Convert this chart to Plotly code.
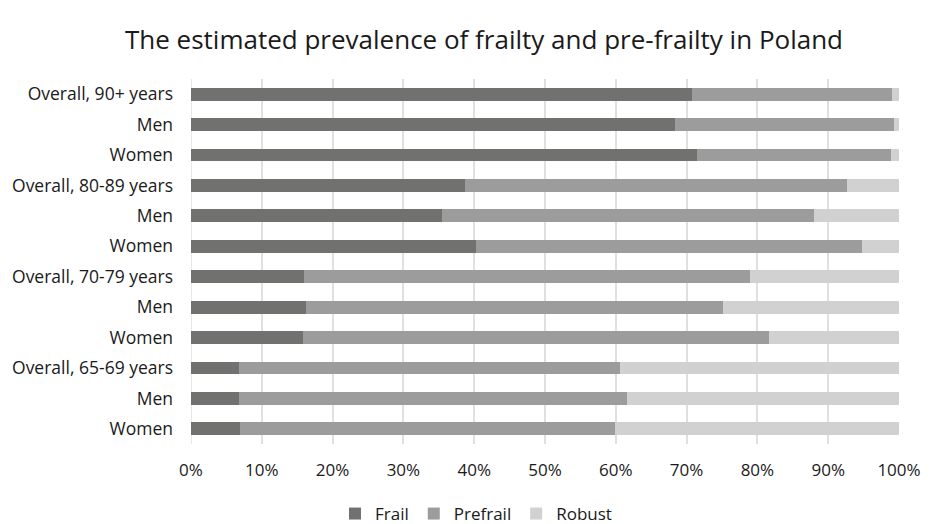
import plotly.graph_objects as go

# Row labels, top to bottom
labels = [
    "Overall, 90+ years", "Men", "Women",
    "Overall, 80-89 years", "Men", "Women",
    "Overall, 70-79 years", "Men", "Women",
    "Overall, 65-69 years", "Men", "Women",
]

# Share of each group (%)
frail = [70.8, 68.4, 71.5, 38.7, 35.5, 40.3, 16.0, 16.2, 15.8, 6.8, 6.8, 6.9]
prefrail = [28.2, 30.9, 27.4, 53.9, 52.5, 54.5, 63.0, 59.0, 65.9, 53.8, 54.8, 53.0]
robust = [1.0, 0.7, 1.1, 7.4, 12.0, 5.2, 21.0, 24.8, 18.3, 39.4, 38.4, 40.1]

series = [
    ("Frail", frail, "#717170"),
    ("Prefrail", prefrail, "#9c9c9c"),
    ("Robust", robust, "#d0d1d0"),
]

rows = list(range(len(labels)))
xticks = list(range(0, 101, 10))
xtick_labels = [f"{v}%" for v in xticks]

fig = go.Figure()
for name, vals, color in series:
    fig.add_trace(go.Bar(
        x=vals, y=rows, name=name, orientation="h",
        marker=dict(color=color, line=dict(width=0)),
    ))

font_family = "Open Sans, Liberation Sans, sans-serif"
text_color = "#1a1a1a"

fig.update_layout(
    barmode="stack",
    bargap=0.58,
    width=933, height=524,
    margin=dict(l=191, r=34, t=79, b=80),
    plot_bgcolor="white", paper_bgcolor="white",
    font=dict(family=font_family, size=16, color=text_color),
    title=dict(
        text="The estimated prevalence of frailty and pre-frailty in Poland",
        x=484 / 933, xanchor="center", xref="container",
        y=1 - 40 / 524, yanchor="middle", yref="container",
        font=dict(size=26, color=text_color, family=font_family),
    ),
    xaxis=dict(
        range=[0, 100], tickvals=xticks, ticktext=xtick_labels,
        showgrid=True, gridcolor="#e0e0e0", gridwidth=1.5,
        zeroline=False, showline=False, ticks="",
        ticklabelstandoff=14, automargin=False,
        tickfont=dict(size=17, color=text_color),
    ),
    yaxis=dict(
        tickvals=rows, ticktext=labels, autorange="reversed",
        showgrid=False, zeroline=False, showline=False, ticks="",
        ticklabelstandoff=17, automargin=False,
        tickfont=dict(size=17.5, color=text_color),
    ),
    legend=dict(
        orientation="h", xref="container", yref="container",
        x=476 / 933, xanchor="center", y=1 - 514 / 524, yanchor="middle",
        font=dict(size=17, color=text_color),
        itemwidth=30, traceorder="normal",
    ),
    showlegend=True,
)

# Left axis border drawn as a grid-coloured line at 0%
fig.add_shape(type="line", xref="x", yref="paper", x0=0, x1=0, y0=0, y1=1,
              line=dict(color="#e0e0e0", width=1.5), layer="below")

fig.write_html("out.html")
